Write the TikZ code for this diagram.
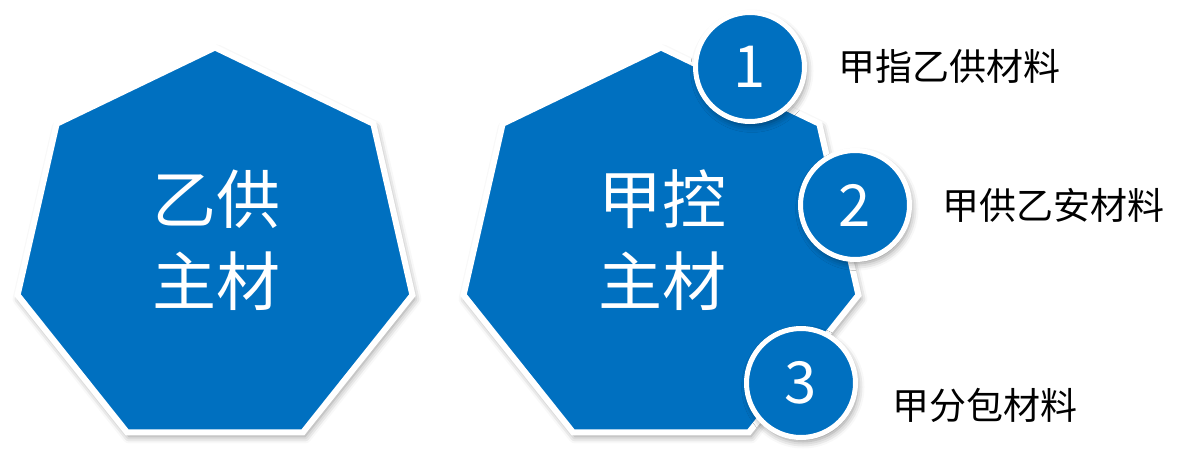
\documentclass[tikz,border=0pt]{standalone}
\usepackage{fontspec}
\newfontfamily\cjk{Noto Sans CJK SC}
\usetikzlibrary{shapes.geometric,shadows.blur}
\definecolor{mainblue}{RGB}{0,112,192}
\begin{document}
\begin{tikzpicture}[x=1pt,y=-1pt,
  softshadow/.style={blur shadow={shadow xshift=2pt,shadow yshift=-4pt,shadow blur radius=7pt,shadow opacity=45}},
  hept/.style={regular polygon,regular polygon sides=7,minimum size=405pt,inner sep=0pt,
    fill=mainblue,draw=white,line width=6pt,softshadow},
  numcirc/.style={circle,minimum size=109pt,inner sep=0pt,fill=mainblue,draw=white,line width=5pt,
    softshadow,text=white,font=\cjk\fontsize{58}{58}\selectfont},
  bigtext/.style={text=white,align=center,font=\cjk\fontsize{64}{82}\selectfont},
  label/.style={text=black,font=\cjk\fontsize{37}{40}\selectfont}]
\useasboundingbox (0,0) rectangle (1197,464);
\node[hept] (h1) at (215,250) {};
\node[hept] (h2) at (661,250) {};
\node[bigtext] (t1) at (216,240) {乙供\\主材};
\node[bigtext] (t2) at (662,240) {甲控\\主材};
\node[numcirc] (c1) at (750,67) {1};
\node[numcirc] (c2) at (855,205) {2};
\node[numcirc] (c3) at (801,383) {3};
\node[label] (l1) at (949,66) {甲指乙供材料};
\node[label] (l2) at (1053,205) {甲供乙安材料};
\node[label] (l3) at (985,405) {甲分包材料};
\end{tikzpicture}
\end{document}
